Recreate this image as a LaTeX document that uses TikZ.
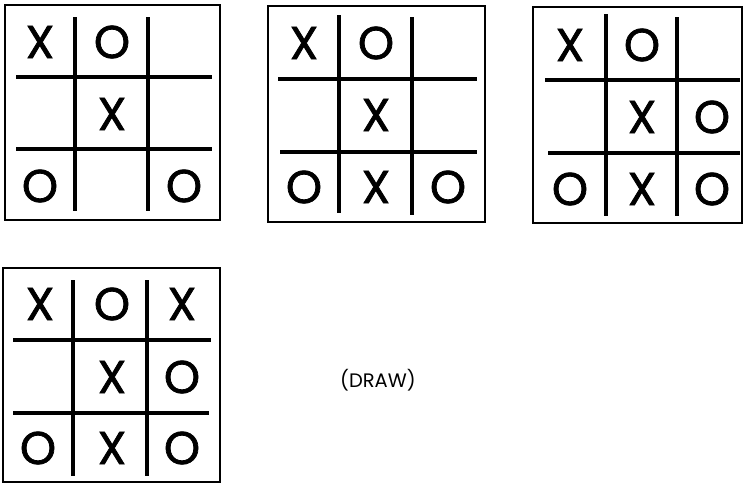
\documentclass[tikz,border=0pt]{standalone}
\usepackage{fontspec}
\setmainfont{Poppins}
\newfontfamily\markfont[FakeBold=1.6]{Poppins}
\begin{document}
\begin{tikzpicture}[x=1pt,y=-1pt,
  frame/.style={draw=black,line width=2pt},
  gridline/.style={draw=black,line width=3.2pt},
  cellmark/.style={inner sep=0pt,font=\markfont\fontsize{46}{46}\selectfont},
  caption/.style={inner sep=0pt,font=\fontsize{19.5}{19.5}\selectfont}]
\useasboundingbox (0,0) rectangle (743,483);
% ---------- Board 1
\draw[frame] (5,5) rectangle (220,220);
\coordinate (b1v1t) at (75,17); \coordinate (b1v1b) at (75,211);
\coordinate (b1v2t) at (148,17); \coordinate (b1v2b) at (148,211);
\coordinate (b1h1l) at (16,77); \coordinate (b1h1r) at (212,77);
\coordinate (b1h2l) at (16,149); \coordinate (b1h2r) at (212,149);
\draw[gridline] (b1v1t) -- (b1v1b); \draw[gridline] (b1v2t) -- (b1v2b);
\draw[gridline] (b1h1l) -- (b1h1r); \draw[gridline] (b1h2l) -- (b1h2r);
\node[cellmark] (b1a1) at (40,42) {X};
\node[cellmark] (b1a2) at (112,42) {O};
\node[cellmark] (b1b2) at (112,114) {X};
\node[cellmark] (b1c1) at (40,186) {O};
\node[cellmark] (b1c3) at (184,186) {O};
% ---------- Board 2
\draw[frame] (268,6) rectangle (485,222);
\coordinate (b2v1t) at (339,15); \coordinate (b2v1b) at (339,213);
\coordinate (b2v2t) at (412,17); \coordinate (b2v2b) at (412,215);
\coordinate (b2h1l) at (278,79); \coordinate (b2h1r) at (477,79);
\coordinate (b2h2l) at (280,152); \coordinate (b2h2r) at (477,152);
\draw[gridline] (b2v1t) -- (b2v1b); \draw[gridline] (b2v2t) -- (b2v2b);
\draw[gridline] (b2h1l) -- (b2h1r); \draw[gridline] (b2h2l) -- (b2h2r);
\node[cellmark] (b2a1) at (304,43) {X};
\node[cellmark] (b2a2) at (376,43) {O};
\node[cellmark] (b2b2) at (376,115) {X};
\node[cellmark] (b2c1) at (304,187) {O};
\node[cellmark] (b2c2) at (376,187) {X};
\node[cellmark] (b2c3) at (448,187) {O};
% ---------- Board 3
\draw[frame] (533,7) rectangle (742,223);
\coordinate (b3v1t) at (606,14); \coordinate (b3v1b) at (606,216);
\coordinate (b3v2t) at (677,17); \coordinate (b3v2b) at (677,216);
\coordinate (b3h1l) at (545,80); \coordinate (b3h1r) at (740,80);
\coordinate (b3h2l) at (548,153); \coordinate (b3h2r) at (740,153);
\draw[gridline] (b3v1t) -- (b3v1b); \draw[gridline] (b3v2t) -- (b3v2b);
\draw[gridline] (b3h1l) -- (b3h1r); \draw[gridline] (b3h2l) -- (b3h2r);
\node[cellmark] (b3a1) at (570,45) {X};
\node[cellmark] (b3a2) at (642,45) {O};
\node[cellmark] (b3b2) at (642,117) {X};
\node[cellmark] (b3b3) at (712,117) {O};
\node[cellmark] (b3c1) at (570,189) {O};
\node[cellmark] (b3c2) at (642,189) {X};
\node[cellmark] (b3c3) at (712,189) {O};
% ---------- Board 4
\draw[frame] (3,268) rectangle (220,482);
\coordinate (b4v1t) at (73,280); \coordinate (b4v1b) at (73,476);
\coordinate (b4v2t) at (147,280); \coordinate (b4v2b) at (147,476);
\coordinate (b4h1l) at (13,340); \coordinate (b4h1r) at (211,340);
\coordinate (b4h2l) at (13,413); \coordinate (b4h2r) at (209,413);
\draw[gridline] (b4v1t) -- (b4v1b); \draw[gridline] (b4v2t) -- (b4v2b);
\draw[gridline] (b4h1l) -- (b4h1r); \draw[gridline] (b4h2l) -- (b4h2r);
\node[cellmark] (b4a1) at (40,304) {X};
\node[cellmark] (b4a2) at (112,304) {O};
\node[cellmark] (b4a3) at (182,304) {X};
\node[cellmark] (b4b2) at (112,377) {X};
\node[cellmark] (b4b3) at (182,377) {O};
\node[cellmark] (b4c1) at (38,448) {O};
\node[cellmark] (b4c2) at (112,448) {X};
\node[cellmark] (b4c3) at (182,448) {O};
% ---------- caption
\node[caption] (drawlabel) at (378,380) {(DRAW)};
\end{tikzpicture}
\end{document}
